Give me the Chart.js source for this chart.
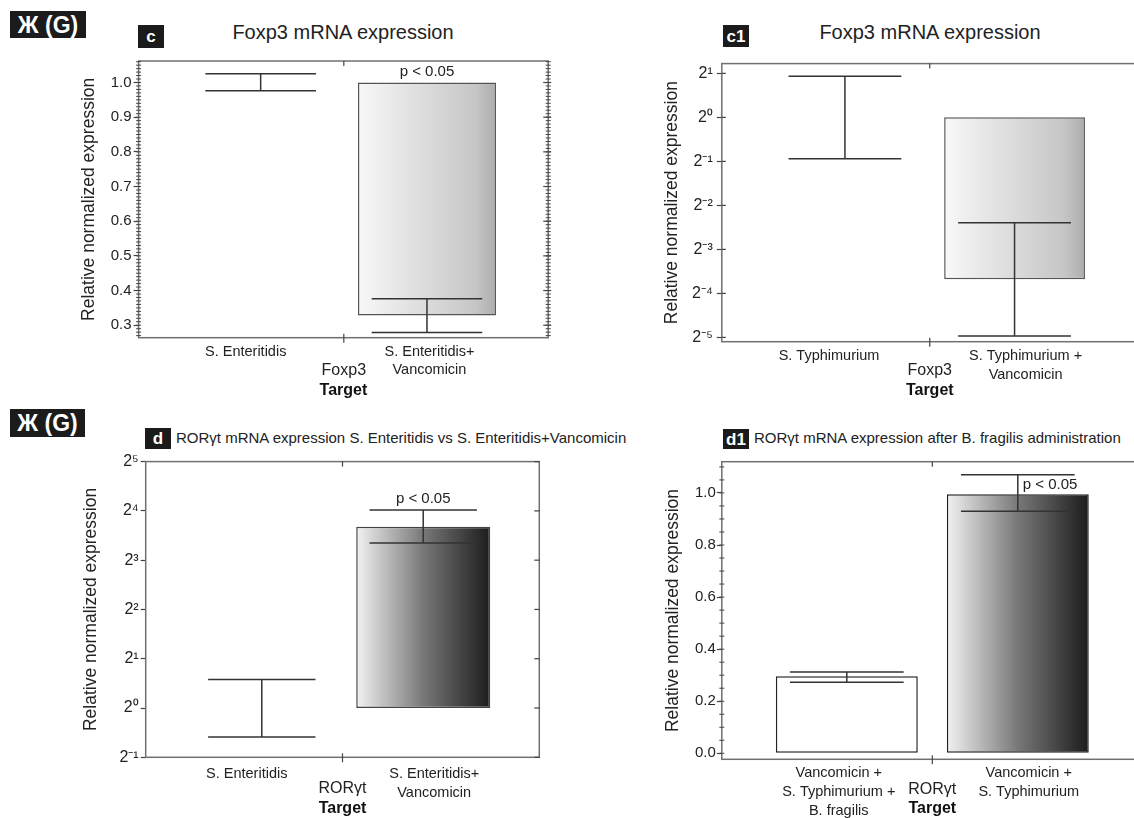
<!DOCTYPE html>
<html>
<head>
<meta charset="utf-8">
<title>Foxp3 / RORγt mRNA expression</title>
<script src="https://cdn.jsdelivr.net/npm/chart.js@4.4.1/dist/chart.umd.min.js"></script>
<style>
  html, body { margin: 0; padding: 0; background: #fff; }
  body { position: relative; width: 1134px; height: 818px; overflow: hidden;
         font-family: 'Liberation Sans', Arial, sans-serif; color: #222; }
  .panel { position: absolute; }
  .tag { position: absolute; background: #1b1b1b; color: #fff; font-weight: bold; text-align: center; }
  .title { position: absolute; white-space: nowrap; color: #222; }
</style>
</head>
<body>

<!-- panel tags and titles -->
<div class="tag" style="left:10px;top:11px;width:76px;height:27px;line-height:28px;font-size:23px;">Ж (G)</div>
<div class="tag" style="left:138px;top:25px;width:26px;height:23px;line-height:24px;font-size:17px;">c</div>
<div class="title" style="left:343px;top:22px;line-height:20px;font-size:20px;transform:translateX(-50%);">Foxp3 mRNA expression</div>
<div class="tag" style="left:723px;top:25px;width:26px;height:22px;line-height:23px;font-size:17px;">c1</div>
<div class="title" style="left:930px;top:22px;line-height:20px;font-size:20px;transform:translateX(-50%);">Foxp3 mRNA expression</div>

<div class="tag" style="left:10px;top:409px;width:75px;height:28px;line-height:29px;font-size:23px;">Ж (G)</div>
<div class="tag" style="left:145px;top:428px;width:26px;height:21px;line-height:22px;font-size:17px;">d</div>
<div class="title" style="left:176px;top:430px;line-height:15px;font-size:15px;">RORγt mRNA expression S. Enteritidis vs S. Enteritidis+Vancomicin</div>
<div class="tag" style="left:723px;top:429px;width:26px;height:20px;line-height:21px;font-size:17px;">d1</div>
<div class="title" style="left:754px;top:430px;line-height:15px;font-size:15px;">RORγt mRNA expression after B. fragilis administration</div>

<div class="panel" style="left:0;top:50px;"><canvas id="chartC" width="560" height="350"></canvas></div>
<div class="panel" style="left:580px;top:50px;"><canvas id="chartC1" width="600" height="350"></canvas></div>
<div class="panel" style="left:0;top:450px;"><canvas id="chartD" width="570" height="368"></canvas></div>
<div class="panel" style="left:580px;top:450px;"><canvas id="chartD1" width="600" height="368"></canvas></div>

<script>
// c - Foxp3, S. Enteritidis
const cLabels = [['S. Enteritidis'], ['S. Enteritidis+', 'Vancomicin']];
const cMean = [1.0, 0.328];
const cErrLow = [0.976, 0.279];
const cErrHigh = [1.025, 0.376];
const cTicks = [0.3, 0.4, 0.5, 0.6, 0.7, 0.8, 0.9, 1.0];

// c1 - Foxp3, S. Typhimurium (log2 axis)
const c1Labels = [['S. Typhimurium'], ['S. Typhimurium +', 'Vancomicin']];
const c1Mean = [1.0, 0.078];
const c1ErrLow = [0.521, 0.032];
const c1ErrHigh = [1.909, 0.19];
const c1TickExps = [-5, -4, -3, -2, -1, 0, 1];

// d - RORgt, S. Enteritidis (log2 axis)
const dLabels = [['S. Enteritidis'], ['S. Enteritidis+', 'Vancomicin']];
const dMean = [1.0, 12.8];
const dErrLow = [0.666, 10.2];
const dErrHigh = [1.495, 16.2];
const dTickExps = [-1, 0, 1, 2, 3, 4, 5];

// d1 - RORgt after B. fragilis
const d1Labels = [['Vancomicin +', 'S. Typhimurium +', 'B. fragilis'], ['Vancomicin +', 'S. Typhimurium']];
const d1Mean = [0.296, 0.995];
const d1ErrLow = [0.273, 0.93];
const d1ErrHigh = [0.312, 1.07];
const d1Ticks = [0.0, 0.2, 0.4, 0.6, 0.8, 1.0];

const FONT = "'Liberation Sans', Arial, sans-serif";
const BAR_PCT = 0.83;
const CAP = 0.665;

const greyFill = [[0, '#f8f8f8'], [0.85, '#c6c6c6'], [1, '#adadad']];
const darkFill = [[0, '#f2f2f2'], [0.5, '#787878'], [1, '#1c1c1c']];

function sup(n) {
    const m = {'-': '⁻', '0': '⁰', '1': '¹', '2': '²', '3': '³', '4': '⁴', '5': '⁵'};
    return String(n).split('').map(ch => m[ch]).join('');
}

function line(ctx, x1, y1, x2, y2) {
    ctx.beginPath();
    ctx.moveTo(x1, y1);
    ctx.lineTo(x2, y2);
    ctx.stroke();
}

// Build one panel
function makePanel(id, p) {
    const deco = {
        id: 'deco_' + id,
        afterDatasetsDraw(chart) {
            const {ctx, chartArea: a, scales: {x, y}} = chart;
            ctx.save();

            // error bars
            ctx.strokeStyle = '#333';
            ctx.lineWidth = 1.5;
            p.mean.forEach((m, i) => {
                const cx = x.getPixelForValue(i + 1);
                const half = x.getPixelForValue(i + 1 + CAP / 2) - cx;
                const yl = y.getPixelForValue(p.errLow[i]);
                const yh = y.getPixelForValue(p.errHigh[i]);
                line(ctx, cx, yl, cx, yh);
                line(ctx, cx - half, yl, cx + half, yl);
                line(ctx, cx - half, yh, cx + half, yh);
            });

            // frame
            ctx.strokeStyle = '#707070';
            ctx.lineWidth = 1.5;
            ctx.strokeRect(a.left, a.top, a.width, a.height);

            // tick marks
            ctx.strokeStyle = '#444';
            ctx.lineWidth = 1;
            if (p.minorStep) {
                const k0 = Math.ceil(y.min / p.minorStep), k1 = Math.floor(y.max / p.minorStep);
                for (let k = k0; k <= k1; k++) {
                    const py = y.getPixelForValue(k * p.minorStep);
                    line(ctx, a.left - 2.5, py, a.left + 2.5, py);
                    if (p.rightMinor) line(ctx, a.right - 2.5, py, a.right + 2.5, py);
                }
            }
            ctx.lineWidth = 1.2;
            y.ticks.forEach(t => {
                const py = y.getPixelForValue(t.value);
                if (p.tickIn) line(ctx, a.left, py, a.left + p.tickIn, py);
                if (p.rightMajor) line(ctx, a.right - 5, py, a.right + p.rightMajor, py);
            });

            // divider between the two samples
            const px = x.getPixelForValue(1.5);
            line(ctx, px, a.bottom - 4, px, a.bottom + 5);
            line(ctx, px, a.top, px, a.top + 5);

            // target gene name
            ctx.fillStyle = '#222';
            ctx.textAlign = 'center';
            ctx.textBaseline = 'middle';
            ctx.font = '16px ' + FONT;
            ctx.fillText(p.gene, px, a.bottom + p.geneDy);

            // significance label
            const topVal = Math.max(p.base, p.mean[1], p.errHigh[1]);
            const cx2 = x.getPixelForValue(2);
            ctx.font = '15px ' + FONT;
            ctx.textAlign = p.pAlign === 'left' ? 'left' : 'center';
            ctx.fillText('p < 0.05', cx2 + (p.pAlign === 'left' ? 5 : 0), y.getPixelForValue(topVal) + p.pDy);

            ctx.restore();
        }
    };

    new Chart(document.getElementById(id), {
        type: 'bar',
        data: {
            datasets: [{
                data: p.mean.map((m, i) => ({x: i + 1, y: [p.base, m]})),
                backgroundColor: ctx => {
                    const stops = p.fills[ctx.dataIndex];
                    const chart = ctx.chart;
                    if (!stops) return '#ffffff';
                    if (!chart.chartArea || ctx.type !== 'data') return stops[0][1];
                    const xs = chart.scales.x;
                    const cx = xs.getPixelForValue(ctx.dataIndex + 1);
                    const half = (xs.getPixelForValue(ctx.dataIndex + 2) - cx) * BAR_PCT / 2;
                    const g = chart.ctx.createLinearGradient(cx - half, 0, cx + half, 0);
                    stops.forEach(s => g.addColorStop(s[0], s[1]));
                    return g;
                },
                borderColor: p.border,
                borderWidth: ctx => (ctx.raw && ctx.raw.y[0] === ctx.raw.y[1]) ? 0 : 1.5,
                borderSkipped: false,
                barPercentage: BAR_PCT,
                categoryPercentage: 1
            }]
        },
        options: {
            responsive: false,
            animation: false,
            layout: { padding: p.pad },
            plugins: { legend: { display: false }, tooltip: { enabled: false } },
            scales: {
                x: {
                    type: 'linear',
                    min: p.xMin,
                    max: p.xMax,
                    offset: false,
                    bounds: 'data',
                    // sample names sit a little apart from the bar centres
                    afterBuildTicks: s => { s.ticks = p.labels.map((l, i) => ({ value: i + 1 + p.labelShift[i] })); },
                    afterFit: s => { s.height = p.xHeight; },
                    grid: { display: false, drawTicks: false },
                    border: { display: false },
                    ticks: {
                        callback: (v, i) => p.labels[i],
                        autoSkip: false,
                        maxRotation: 0,
                        padding: p.xTickPad,
                        color: '#222',
                        font: { family: FONT, size: 14.5, lineHeight: 1.29 }
                    },
                    title: {
                        display: true, text: 'Target', color: '#111',
                        font: { family: FONT, size: 16, weight: 'bold' },
                        padding: { top: 0, bottom: 0 }
                    }
                },
                y: {
                    type: p.yType,
                    min: p.yMin,
                    max: p.yMax,
                    bounds: 'data',
                    afterBuildTicks: s => { s.ticks = p.ticks.map(v => ({ value: v })); },
                    afterFit: s => { s.width = p.yWidth; },
                    grid: { drawOnChartArea: false, drawTicks: true, tickLength: 5, tickColor: '#444', tickWidth: 1.2 },
                    border: { display: false },
                    ticks: {
                        callback: p.fmt,
                        autoSkip: false,
                        padding: p.yTickPad,
                        color: '#222',
                        font: { family: FONT, size: p.yFontSize }
                    },
                    title: {
                        display: true, text: 'Relative normalized expression', color: '#222',
                        font: { family: FONT, size: 17.5 },
                        padding: { top: p.yTitlePad, bottom: 0 }
                    }
                }
            }
        },
        plugins: [deco]
    });
}

const fmtLin = v => v.toFixed(1);
const fmtLog = v => '2' + sup(Math.round(Math.log2(v)));

makePanel('chartC', {
    labels: cLabels, mean: cMean, errLow: cErrLow, errHigh: cErrHigh, base: 1,
    yType: 'linear', yMin: 0.264, yMax: 1.062, ticks: cTicks, fmt: fmtLin, yFontSize: 15,
    xMin: 0.266, xMax: 2.729, labelShift: [-0.09, 0.015],
    pad: { top: 7.3, right: 11.8, bottom: 0, left: 0 },
    yWidth: 138.6, xHeight: 62.3, yTitlePad: 78.8, xTickPad: 4.5, yTickPad: 2,
    fills: [greyFill, greyFill], border: '#555',
    minorStep: 0.01, rightMinor: true, rightMajor: 3,
    gene: 'Foxp3', geneDy: 33.3, pDy: -10.7
});

makePanel('chartC1', {
    labels: c1Labels, mean: c1Mean, errLow: c1ErrLow, errHigh: c1ErrHigh, base: 1,
    yType: 'logarithmic', yMin: Math.pow(2, -5.098), yMax: Math.pow(2, 1.222),
    ticks: c1TickExps.map(e => Math.pow(2, e)), fmt: fmtLog, yFontSize: 16,
    xMin: 0.274, xMax: 2.726, labelShift: [-0.094, 0.065],
    pad: { top: 7.3, right: 42.3, bottom: 0, left: 0 },
    yWidth: 141.8, xHeight: 58.3, yTitlePad: 81.3, xTickPad: 4.9, yTickPad: 4,
    fills: [greyFill, greyFill], border: '#555', tickIn: 4,
    gene: 'Foxp3', geneDy: 29.3, pDy: -1000
});

makePanel('chartD', {
    labels: dLabels, mean: dMean, errLow: dErrLow, errHigh: dErrHigh, base: 1,
    yType: 'logarithmic', yMin: 0.5, yMax: 32,
    ticks: dTickExps.map(e => Math.pow(2, e)), fmt: fmtLog, yFontSize: 16,
    xMin: 0.281, xMax: 2.719, labelShift: [-0.093, 0.068],
    pad: { top: 11, right: 30.7, bottom: 0, left: 0 },
    yWidth: 145.7, xHeight: 60.7, yTitlePad: 80.5, xTickPad: 7.2, yTickPad: 2,
    fills: [darkFill, darkFill], border: '#444', rightMajor: 0.5,
    gene: 'RORγt', geneDy: 31, pDy: -11.3
});

makePanel('chartD1', {
    labels: d1Labels, mean: d1Mean, errLow: d1ErrLow, errHigh: d1ErrHigh, base: 0,
    yType: 'linear', yMin: -0.023, yMax: 1.12, ticks: d1Ticks, fmt: fmtLin, yFontSize: 15,
    xMin: 0.269, xMax: 2.731, labelShift: [-0.047, 0.064],
    pad: { top: 11.7, right: 37.2, bottom: 0, left: 0 },
    yWidth: 141.8, xHeight: 58.7, yTitlePad: 83.1, xTickPad: 4.5, yTickPad: 1,
    fills: [null, darkFill], border: '#222',
    minorStep: 0.05,
    gene: 'RORγt', geneDy: 30.7, pDy: 10.3, pAlign: 'left'
});
</script>
</body>
</html>
